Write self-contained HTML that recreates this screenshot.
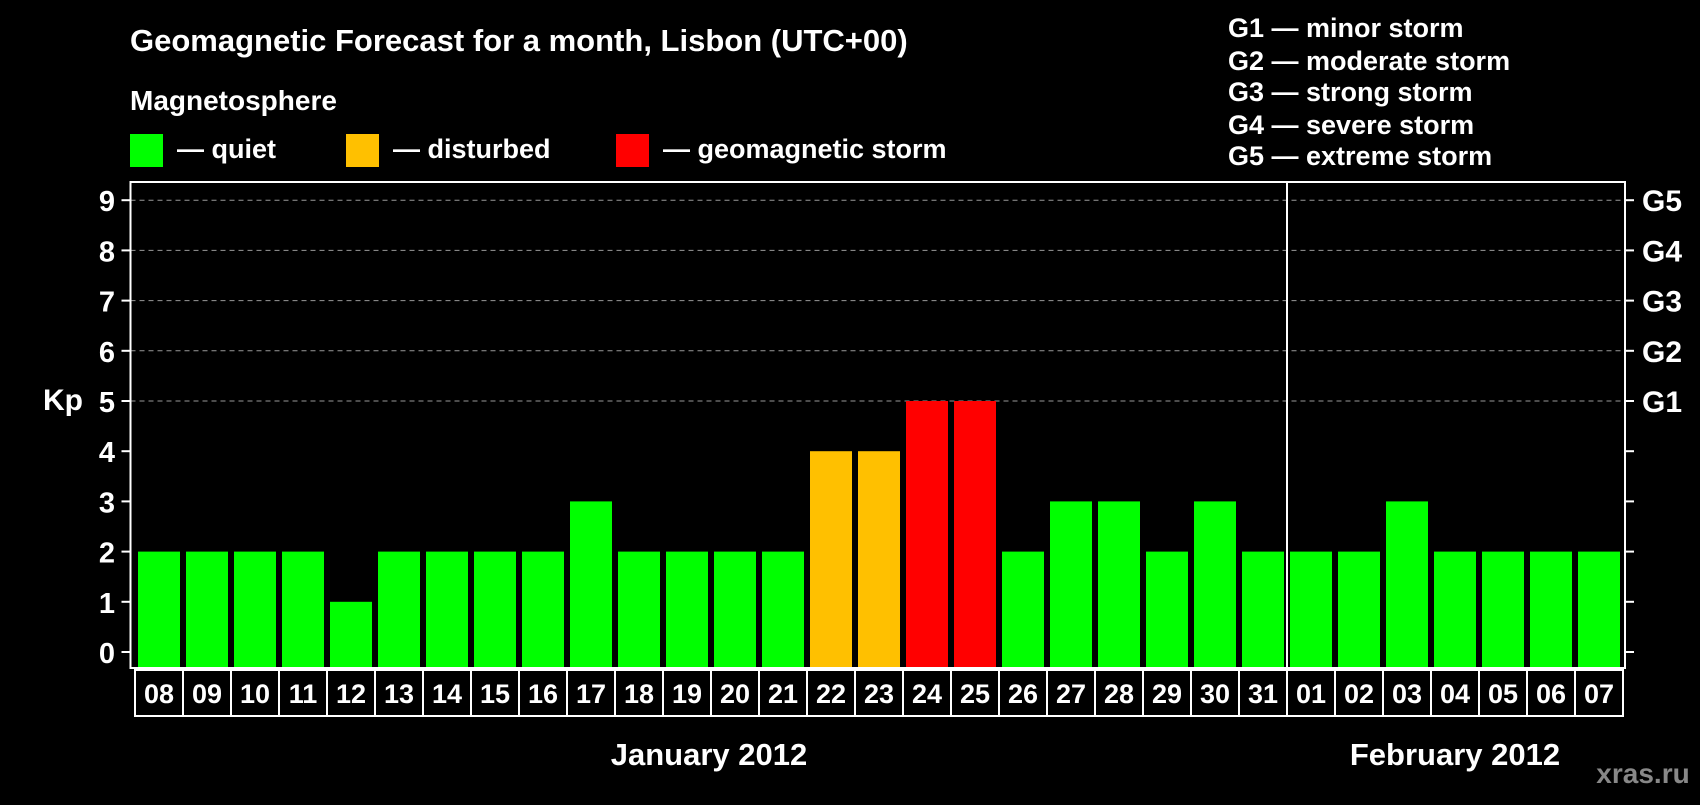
<!DOCTYPE html>
<html><head><meta charset="utf-8"><style>
body{margin:0;background:#000;width:1700px;height:800px;overflow:hidden;font-family:"Liberation Sans",sans-serif;}
svg text{font-family:"Liberation Sans",sans-serif;font-weight:bold;fill:#fff;}
</style></head><body>
<svg width="1700" height="800">
<text x="130" y="51" font-size="31">Geomagnetic Forecast for a month, Lisbon (UTC+00)</text>
<text x="130" y="110" font-size="28">Magnetosphere</text>
<rect x="130" y="134" width="33" height="33" fill="#00ff00"/>
<text x="177" y="158" font-size="27">— quiet</text>
<rect x="346" y="134" width="33" height="33" fill="#ffc000"/>
<text x="393" y="158" font-size="27">— disturbed</text>
<rect x="616" y="134" width="33" height="33" fill="#ff0000"/>
<text x="663" y="158" font-size="27">— geomagnetic storm</text>
<g font-size="27">
<text x="1228" y="37">G1 — minor storm</text>
<text x="1228" y="70">G2 — moderate storm</text>
<text x="1228" y="101">G3 — strong storm</text>
<text x="1228" y="134">G4 — severe storm</text>
<text x="1228" y="165">G5 — extreme storm</text>
</g>
<text x="43" y="410" font-size="30">Kp</text>
<g id="chart"></g>
<text x="709" y="765" font-size="31" text-anchor="middle">January 2012</text>
<text x="1455" y="765" font-size="31" text-anchor="middle">February 2012</text>
<text x="1643" y="783" font-size="28" text-anchor="middle" style="fill:#888">xras.ru</text>
</svg>
<script>
const days=["08","09","10","11","12","13","14","15","16","17","18","19","20","21","22","23","24","25","26","27","28","29","30","31","01","02","03","04","05","06","07"];
const kpValues=[2,2,2,2,1,2,2,2,2,3,2,2,2,2,4,4,5,5,2,3,3,2,3,2,2,2,3,2,2,2,2];
const yTicks=[0,1,2,3,4,5,6,7,8,9];
const gLabels=["G1","G2","G3","G4","G5"];
const NS="http://www.w3.org/2000/svg";
const g=document.getElementById('chart');
const L=130.5,R=1625,T=182,B=668,X0=138,P=48,BW=42;
const y=v=>652-v*50.2;
const x=i=>X0+i*P;
function mk(t,a){const e=document.createElementNS(NS,t);for(const k in a)e.setAttribute(k,a[k]);g.appendChild(e);return e;}
yTicks.forEach(v=>{
 if(v>=5){const l=mk('line',{x1:L,x2:R,y1:y(v),y2:y(v),stroke:'#999','stroke-dasharray':'5,4','stroke-width':1});
 
 }
 mk('line',{x1:L-9,x2:L,y1:y(v),y2:y(v),stroke:'#fff','stroke-width':2});
 mk('line',{x1:R,x2:R+9,y1:y(v),y2:y(v),stroke:'#fff','stroke-width':2});
 const t=mk('text',{x:115,y:y(v)+11,'font-size':29,'text-anchor':'end'});t.textContent=v;
 
 
});
gLabels.forEach((s,i)=>{const t=mk('text',{x:1642,y:y(5+i)+11,'font-size':30});t.textContent=s;
 
 });
kpValues.forEach((v,i)=>{
 const c=v>=5?'#ff0000':v>=4?'#ffc000':'#00ff00';
 const r=mk('rect',{x:x(i),y:y(v),width:BW,height:B-y(v),fill:c});
 
 
 const cx=135+i*P;
 mk('rect',{x:cx,y:670,width:P,height:46,fill:'none',stroke:'#fff','stroke-width':2});
 const t=mk('text',{x:cx+P/2,y:703,'font-size':27,'text-anchor':'middle'});t.textContent=days[i];
 
 
});
const box=mk('rect',{x:L,y:T,width:R-L,height:B-T,fill:'none',stroke:'#fff','stroke-width':2});


const div=mk('line',{x1:x(24)-3,x2:x(24)-3,y1:T,y2:B,stroke:'#fff','stroke-width':2});


</script>
</body></html>
